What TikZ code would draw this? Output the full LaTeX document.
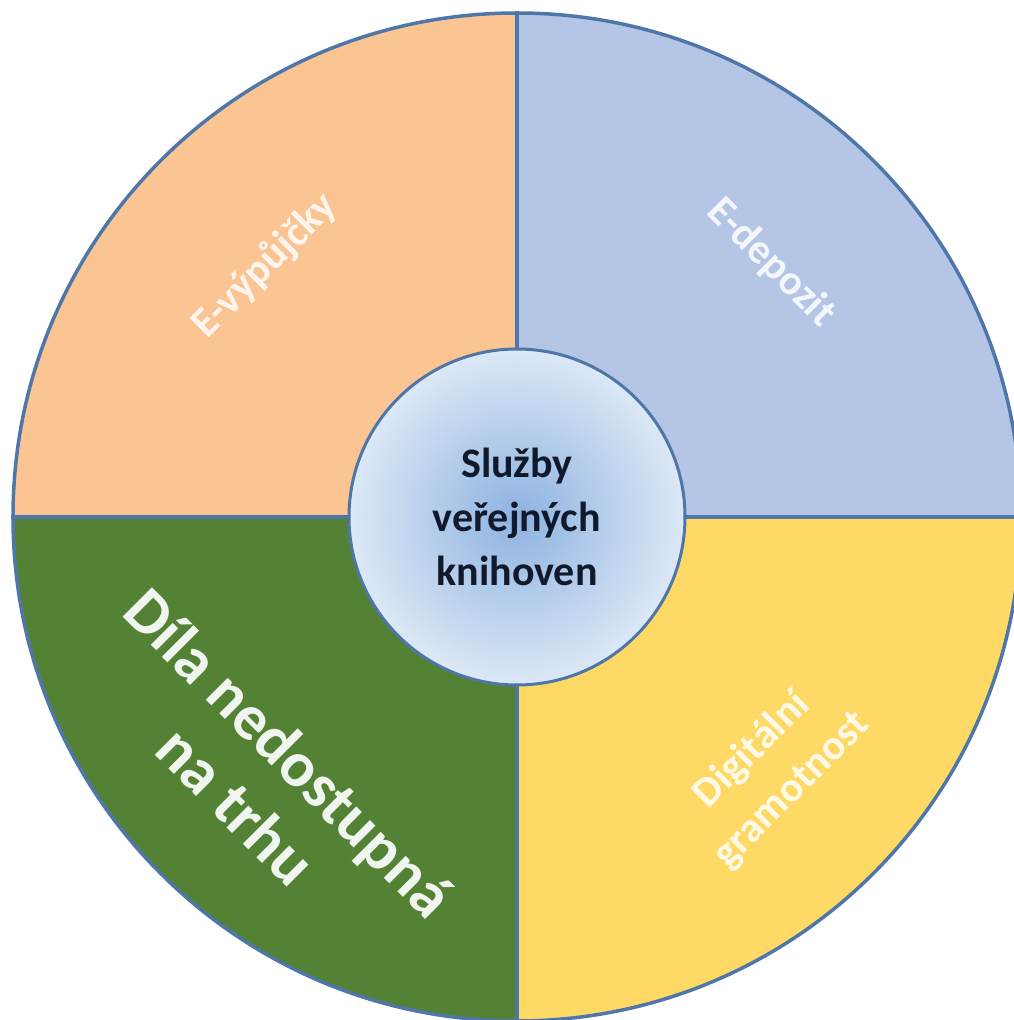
\documentclass[tikz,border=0pt]{standalone}
\usepackage{fontspec}
\setmainfont{Carlito}
\definecolor{qorange}{HTML}{FBC593}
\definecolor{qblue}{HTML}{B4C5E6}
\definecolor{qgreen}{HTML}{548235}
\definecolor{qyellow}{HTML}{FFD966}
\definecolor{edge}{HTML}{4F76A8}
\definecolor{hubin}{HTML}{8DB2E0}
\definecolor{hubout}{HTML}{DCE8F6}
\definecolor{hubtext}{HTML}{111A2C}
\begin{document}
\begin{tikzpicture}[x=1pt,y=1pt,
  sector/.style={line width=3.5pt, draw=edge, line join=round},
  qlabel/.style={text=white, text opacity=0.85, font=\bfseries\fontsize{42}{56}\selectfont, align=center, inner sep=0pt},
  biglabel/.style={text=white, text opacity=0.92, font=\bfseries\fontsize{64}{75}\selectfont, align=center, inner sep=0pt}]
\useasboundingbox (-517,-503) rectangle (497,517);
\clip (-517,-503) rectangle (497,517);
\def\R{504}
\fill[qorange] (0,0) -- (180:\R) arc[start angle=180,end angle=90,radius=\R] -- cycle;
\fill[qblue] (0,0) -- (90:\R) arc[start angle=90,end angle=0,radius=\R] -- cycle;
\fill[qyellow] (0,0) -- (0:\R) arc[start angle=0,end angle=-90,radius=\R] -- cycle;
\fill[qgreen] (0,0) -- (-90:\R) arc[start angle=-90,end angle=-180,radius=\R] -- cycle;
\coordinate (c) at (0,0);
\coordinate (n) at (90:\R);
\coordinate (s) at (-90:\R);
\coordinate (e) at (0:\R);
\coordinate (w) at (180:\R);
\draw[sector] (c) circle[radius=\R];
\draw[sector] (n) -- (s);
\draw[sector] (w) -- (e);
\node[circle, minimum size=336pt, inner sep=0pt, draw=edge, line width=3pt,
  inner color=hubin, outer color=hubout, text=hubtext,
  font=\bfseries\fontsize{42}{54}\selectfont, align=center] (hub) at (c)
  {Služby\\veřejných\\knihoven};
\node[qlabel, rotate=45] (evyp) at (-252,251) {E-výpůjčky};
\node[qlabel, rotate=-45] (edep) at (254,254) {E-depozit};
\node[qlabel, rotate=45] (digi) at (255,-253) {Digitální\\gramotnost};
\node[biglabel, rotate=-45] (dila) at (-254,-262) {Díla nedostupná\\na trhu};
\end{tikzpicture}
\end{document}
